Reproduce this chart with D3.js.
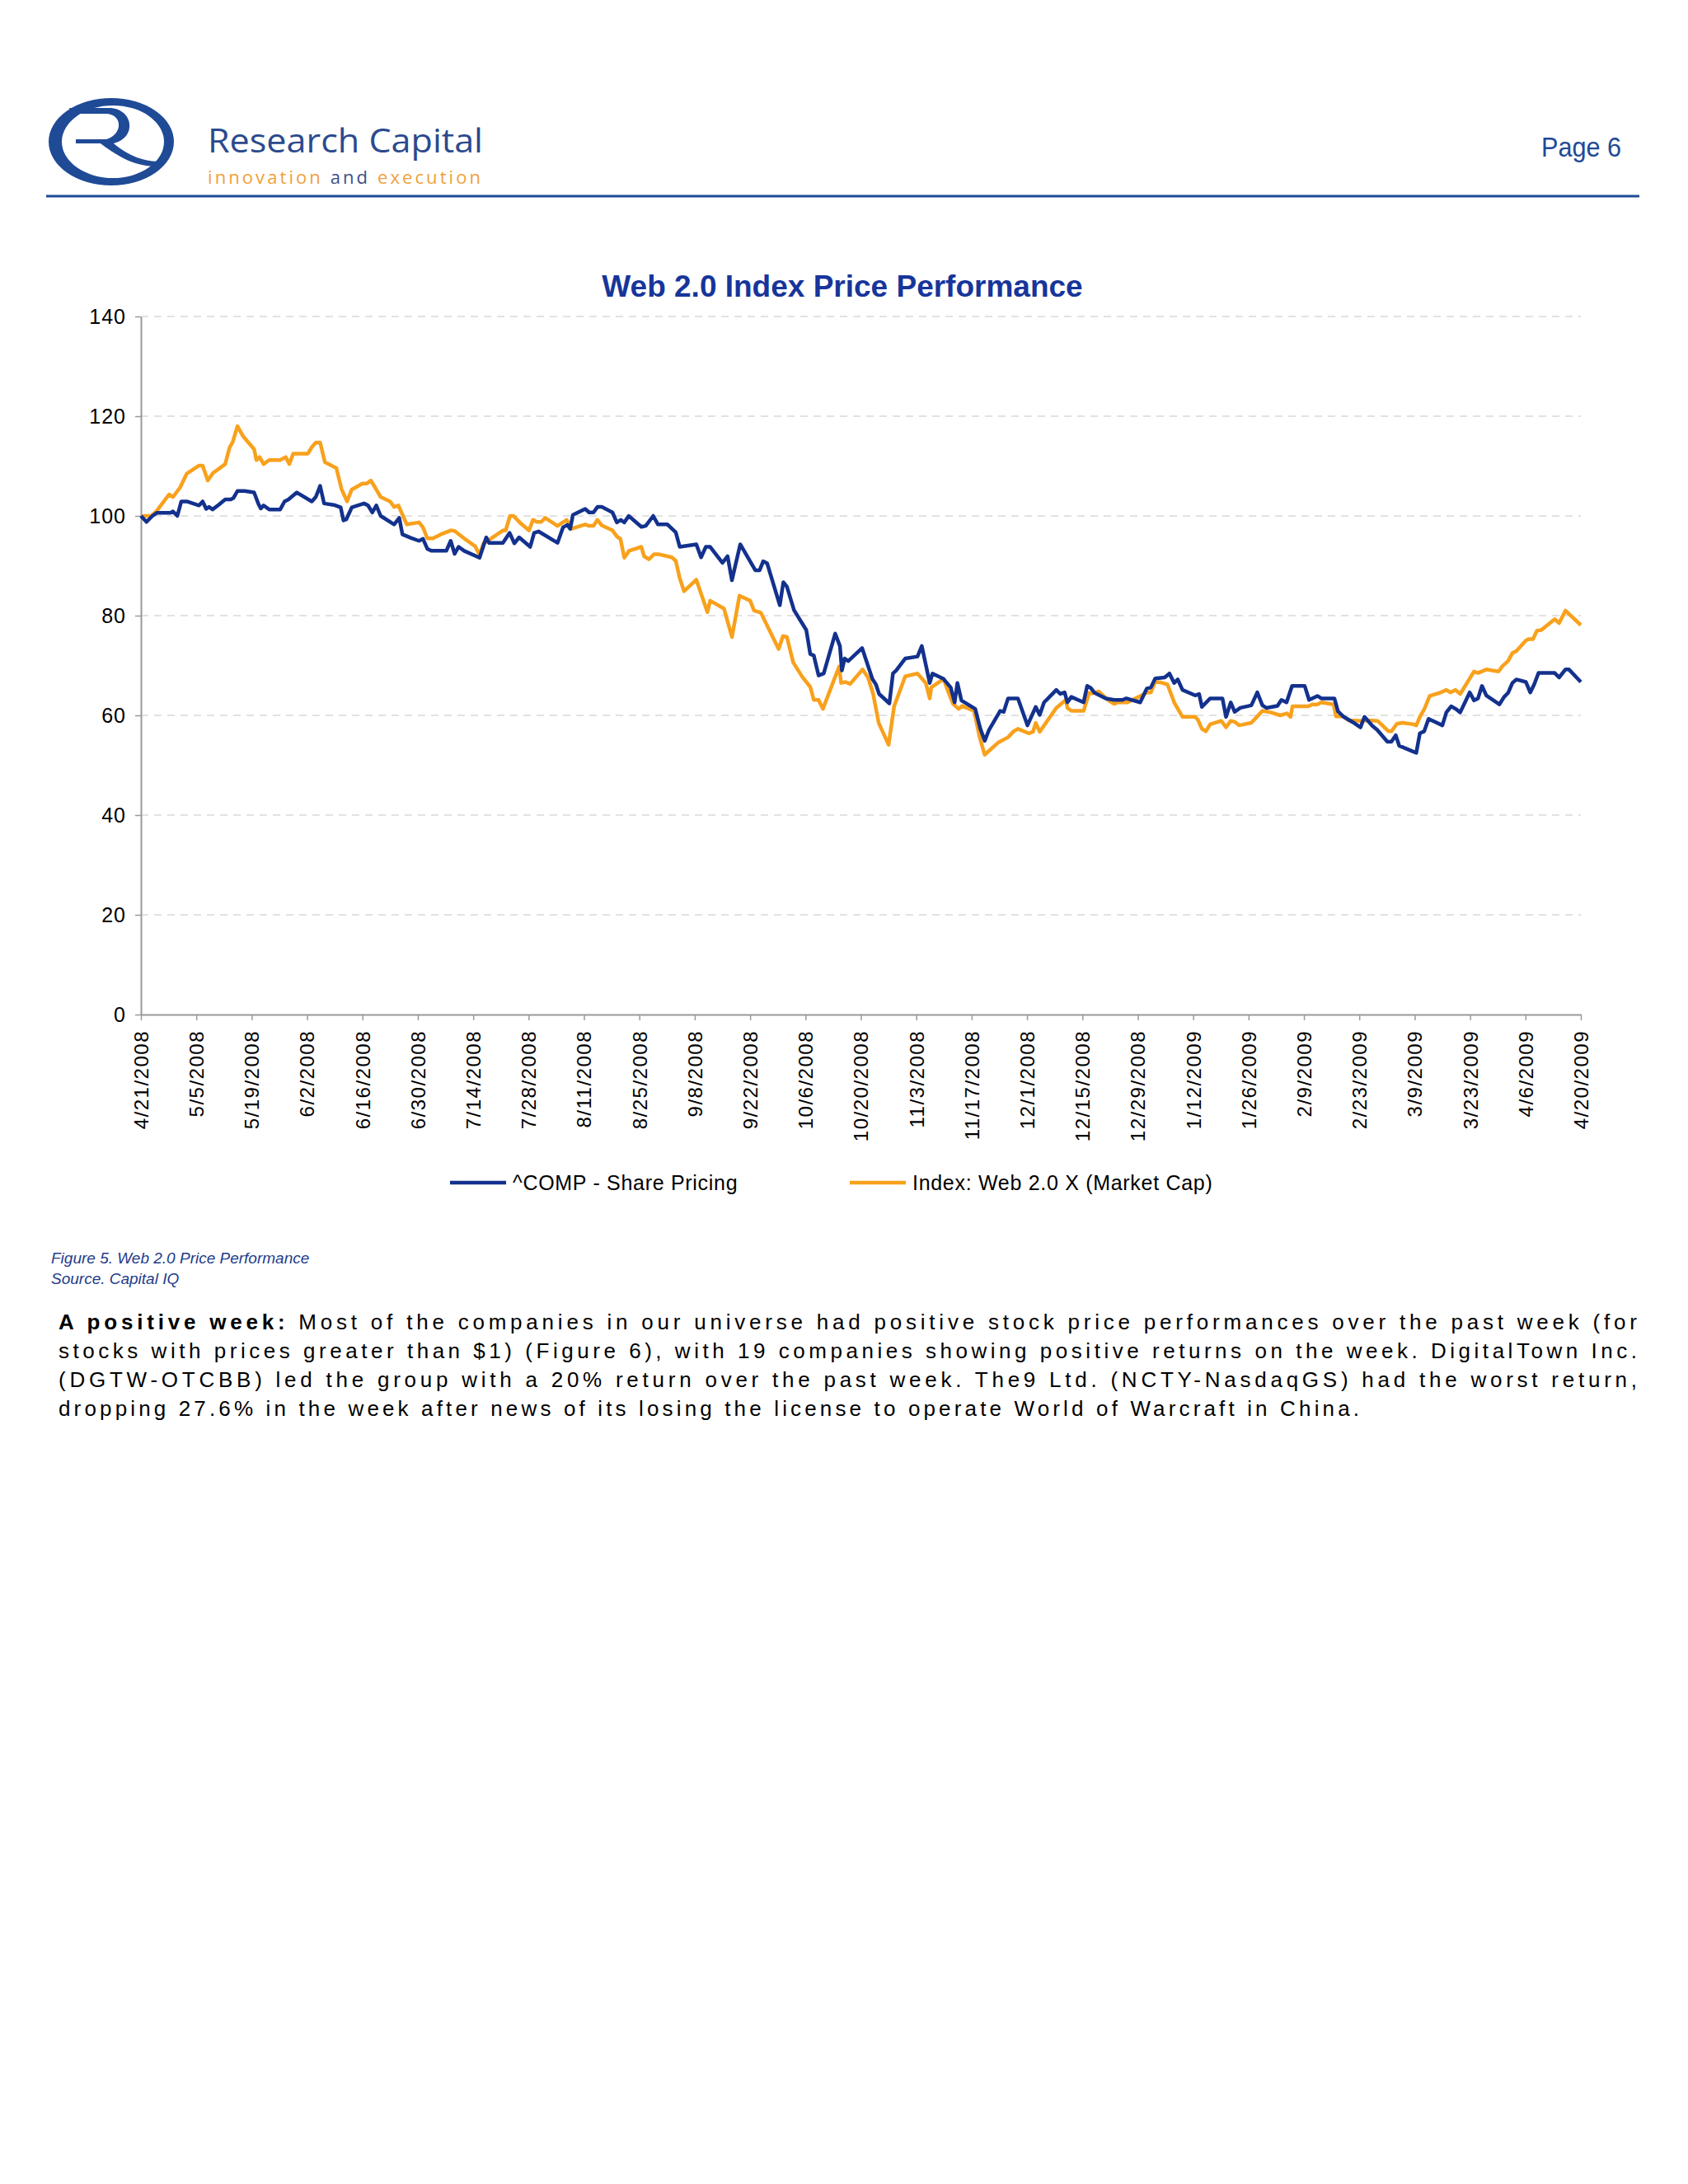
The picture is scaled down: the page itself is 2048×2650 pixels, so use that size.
<!DOCTYPE html>
<html>
<head>
<meta charset="utf-8">
<script src="https://cdn.jsdelivr.net/npm/d3@7"></script>
<style>
  body { margin: 0; background: #fff; }
  svg { display: block; }
  text { font-family: "Liberation Sans", Arial, Helvetica, sans-serif; }
</style>
</head>
<body>
<svg id="page" width="2048" height="2650"></svg>
<script>
// x tick labels, every two weeks
const tickLabels = ["4/21/2008", "5/5/2008", "5/19/2008", "6/2/2008", "6/16/2008", "6/30/2008",
  "7/14/2008", "7/28/2008", "8/11/2008", "8/25/2008", "9/8/2008", "9/22/2008", "10/6/2008",
  "10/20/2008", "11/3/2008", "11/17/2008", "12/1/2008", "12/15/2008", "12/29/2008", "1/12/2009",
  "1/26/2009", "2/9/2009", "2/23/2009", "3/9/2009", "3/23/2009", "4/6/2009", "4/20/2009"];
const yTicks = [0, 20, 40, 60, 80, 100, 120, 140];

// ^COMP - Share Pricing: days after 4/21/2008, rebased value
const compDays = [0, 1.4, 2.9, 4, 7.4, 8.1, 9.2, 10.2, 11.6, 14.7, 15.6, 16.5, 17.2, 18.1, 19.6, 21.3,
  22.7, 23.4, 24.4, 26.2, 28.6, 29.7, 30.3, 31, 32.4, 35.2, 36.3, 37.3, 39.4, 43.2, 44.2, 45.3, 46.3,
  48.8, 50.5, 51.2, 51.9, 53.3, 56.4, 57.4, 58.5, 59.5, 60.6, 64, 65.3, 66.1, 68.2, 70.3, 71.3, 72.4,
  73.4, 77.2, 78.3, 79.3, 80.3, 81.7, 85.6, 87.3, 88, 91.5, 93.2, 94.4, 95.6, 98.4, 99.4, 100.5, 105.3,
  106.7, 107.8, 108.5, 109.2, 112.3, 113.3, 114.4, 115.4, 116.5, 119.2, 120.3, 121.3, 122.2, 123.3,
  126.5, 127.6, 129.5, 130.7, 133.1, 135.2, 136.2, 140.4, 141.6, 142.8, 143.9, 147, 148.3, 149.4,
  151.5, 155.3, 156.4, 157.3, 158.3, 161.5, 162.4, 163.3, 165.1, 168.2, 169.2, 170.1, 171.3, 172.6,
  175.5, 176.7, 177.2, 177.9, 178.8, 182.3, 184.9, 185.8, 186.6, 189.2, 190.1, 190.9, 193.2, 196.3,
  197.4, 199.4, 200.1, 202.9, 204.7, 205.7, 206.4, 207.4, 210.9, 212.2, 213.3, 214.4, 217.2, 218.1,
  219.2, 221.7, 224.1, 226.2, 227.2, 228.3, 231.4, 232.4, 233.5, 234.2, 235.2, 238.3, 239.2, 240.1,
  241.1, 243.9, 246, 248.1, 249.1, 252.6, 254.3, 255.3, 256.4, 258.8, 260, 261.2, 262.1, 263.3, 266.5,
  267.5, 268.2, 270.3, 273.4, 274.3, 275.5, 276.5, 277.9, 280.7, 282.2, 283.5, 284.5, 287.3, 288.3,
  289.6, 291, 294.2, 295.3, 297.4, 298.4, 301.7, 302.6, 303.9, 306.4, 308.3, 309.3, 311.3, 312.5,
  315.1, 316.1, 317.2, 318.1, 321.7, 322.4, 323.3, 324.4, 325.5, 329, 330, 331.2, 332.4, 333.5, 335.9,
  337, 338, 339, 340.1, 343.4, 344.6, 345.6, 346.7, 347.7, 350.1, 351.2, 352.2, 353.3, 357.4, 358.5,
  360.1, 361, 364];
const compValues = [100, 98.8, 100, 100.6, 100.6, 100.9, 100, 102.9, 102.9, 102.1, 102.9, 101.4, 101.8,
  101.3, 102.2, 103.3, 103.3, 103.6, 105, 105, 104.7, 102.4, 101.5, 102.1, 101.3, 101.3, 102.9, 103.3,
  104.7, 102.9, 103.8, 106, 102.5, 102.2, 101.7, 99.1, 99.3, 101.7, 102.5, 102.1, 100.7, 102.1, 100,
  98.3, 99.6, 96.3, 95.6, 95, 95.4, 93.4, 93, 93, 95, 92.4, 93.8, 93, 91.6, 95.7, 94.6, 94.6, 96.6,
  94.5, 95.7, 93.8, 96.6, 96.9, 94.6, 97.7, 98.2, 97.4, 100.2, 101.4, 100.7, 100.7, 101.8, 101.8,
  100.7, 98.7, 99.2, 98.7, 100, 97.8, 98, 100, 98.3, 98.3, 96.7, 93.8, 94.3, 91.7, 93.8, 93.8, 90.6,
  91.9, 87.1, 94.3, 89.1, 89.1, 90.9, 90.5, 82.1, 86.7, 85.8, 81.1, 77.1, 72.3, 72, 68, 68.4, 76.4,
  73.9, 69, 71.4, 70.9, 73.5, 67.3, 66.2, 64.3, 62.4, 68.4, 69, 71.4, 71.8, 73.9, 66.5, 68.4, 67.3,
  65.6, 62.6, 66.5, 63, 61.3, 57.3, 54.9, 57.1, 60.9, 60.7, 63.4, 63.4, 58, 61.7, 60.1, 62.6, 65.1,
  64.3, 64.6, 62.6, 63.7, 62.6, 65.9, 65.5, 64.5, 63.4, 63.1, 63.1, 63.4, 62.6, 65.4, 65.6, 67.4, 67.6,
  68.4, 66.5, 67.2, 65.1, 64, 64.3, 61.7, 63.4, 63.4, 59.7, 62.6, 60.7, 61.5, 62, 64.6, 62, 61.5,
  61.9, 63.1, 62.6, 65.9, 65.9, 63.1, 63.9, 63.4, 63.4, 60.8, 59.8, 58.6, 57.6, 59.7, 57.9, 57.1,
  54.7, 54.7, 56, 53.9, 52.7, 52.5, 56.4, 56.8, 59.3, 58, 60.6, 61.8, 61.3, 60.6, 64.6, 63, 63.4,
  65.9, 64, 62.2, 63.7, 64.5, 66.5, 67.2, 66.7, 64.6, 66.2, 68.5, 68.5, 67.6, 69.2, 69.2, 66.7];

// Index: Web 2.0 X (Market Cap)
const webDays = [0, 2.6, 4, 7.1, 8.1, 9.9, 11.6, 14.7, 15.6, 16.9, 18.2, 19.6, 21.3, 22.4, 23.2, 24.4,
  25.8, 28.6, 29.2, 30, 31, 32.4, 35.2, 36.6, 37.5, 38.5, 42.2, 43.2, 44.2, 45.3, 46.5, 49.4, 50.7,
  52.1, 53.3, 56, 57.1, 58.1, 59.2, 60.6, 63, 64, 65.1, 67.2, 70.3, 71.3, 72.4, 73.8, 75.8, 78.3,
  79.3, 81.7, 84.5, 85.6, 86.6, 88, 91.5, 92.2, 93.3, 94.2, 96, 98.1, 99.1, 100.1, 101.2, 102.2,
  105.3, 107.6, 108.8, 112.3, 113.3, 114.4, 115.4, 116.5, 119.2, 120.3, 121.2, 122.2, 123.4, 126.5,
  127.2, 128.4, 129.7, 131, 134.2, 135.2, 136.2, 137.3, 140.4, 143.2, 143.9, 147.4, 149.4, 151.3,
  154, 155, 156.7, 161.2, 162.3, 163.3, 164.9, 167.2, 169.2, 170.1, 171.3, 172.4, 176.5, 177, 178.1,
  179.3, 182.4, 183.8, 185.1, 186.5, 189, 190.4, 193.2, 196.3, 198.4, 199.4, 199.8, 202.9, 203.9,
  205.3, 206.7, 207.6, 210.6, 212, 213.3, 216.8, 219.2, 220.6, 221.7, 224.4, 225.5, 226.2, 227.2,
  231.4, 233.8, 234.2, 235.2, 238.3, 239.7, 240.5, 242.1, 244.6, 246, 247, 249.4, 252.2, 254.3, 255.3,
  256.4, 257.8, 259.5, 261.2, 263.3, 266.5, 267.2, 268.2, 269.2, 270.3, 273.1, 274.3, 275.5, 276.5,
  277.6, 280.7, 283.5, 285.6, 288, 289.7, 290.6, 291.1, 295.1, 296.1, 297.4, 298.4, 301.5, 302.1,
  303.9, 305.3, 308.5, 310.2, 312.6, 315.4, 316.1, 317.5, 318.9, 321.7, 322.4, 323.3, 324.4, 325.8,
  328.3, 330, 331, 332.3, 333.5, 335.6, 337, 338, 340.1, 343.2, 344.2, 345.6, 346.7, 347.7, 350.1,
  350.8, 351.9, 352.9, 354, 357.4, 358.5, 360.1, 364];
const webValues = [100, 100, 101, 104.3, 103.8, 105.7, 108.5, 110.1, 110.1, 107.1, 108.6, 109.4, 110.4,
  113.7, 114.8, 118, 116, 113.4, 111.2, 111.8, 110.4, 111.2, 111.2, 111.8, 110.4, 112.5, 112.5, 113.8,
  114.7, 114.7, 110.8, 109.6, 105.4, 102.9, 105.3, 106.5, 106.5, 107.1, 105.7, 103.8, 102.9, 101.8,
  102.1, 98.3, 98.7, 97.7, 95.5, 95.5, 96.3, 97.1, 97, 95.5, 93.9, 92.2, 94.5, 95.2, 97.1, 97.1, 100,
  100, 98.5, 97.1, 99.2, 98.8, 98.8, 99.6, 98, 99.2, 97.4, 98.3, 98, 98, 99.2, 98.1, 97.1, 95.9, 95.4,
  91.6, 93, 93.8, 91.9, 91.3, 92.3, 92.3, 91.7, 91, 87.5, 84.9, 87.2, 80.7, 83, 81.4, 75.7, 84, 83,
  81, 80.6, 73.3, 75.9, 75.7, 70.6, 67.7, 65.7, 63.1, 63.1, 61.3, 69.8, 66.5, 66.7, 66.3, 69.2, 67.6,
  64.3, 58.5, 54.1, 61.8, 67.8, 68.4, 66.5, 63.4, 65.6, 67.3, 65.1, 62.3, 61.3, 61.9, 60.9, 55.7, 52.1,
  54.6, 55.6, 56.8, 57.3, 56.4, 56.7, 58.5, 56.7, 61.5, 63.1, 61.5, 60.9, 60.9, 64.5, 64.4, 64.8, 63,
  62.3, 62.6, 62.6, 63.7, 64.6, 64.6, 66.7, 66.6, 66.2, 62.6, 59.7, 59.7, 59.1, 57.3, 56.8, 58.2, 58.9,
  57.6, 58.9, 58.7, 58, 58.5, 60.9, 60.6, 60, 60.4, 59.7, 61.8, 61.8, 62.2, 62.2, 62.6, 62.2, 59.8,
  59.8, 59, 58.9, 59, 58.9, 56.8, 56.8, 58.3, 58.5, 58.2, 58, 59.7, 61.2, 63.9, 64.5, 65.1, 64.6, 65.1,
  64.3, 67, 68.8, 68.5, 69.2, 68.8, 69.9, 70.9, 72.5, 72.9, 75, 75.3, 75.3, 77, 77.1, 79.3, 78.5, 81,
  78.1];

const seriesNames = ["^COMP - Share Pricing", "Index: Web 2.0 X (Market Cap)"];
const seriesColors = ["#13318d", "#f8a11c"];

const paragraphLead = "A positive week:";
const paragraphLines = [
  " Most of the companies in our universe had positive stock price performances over the past week (for",
  "stocks with prices greater than $1) (Figure 6), with 19 companies showing positive returns on the week. DigitalTown Inc.",
  "(DGTW-OTCBB) led the group with a 20% return over the past week. The9 Ltd. (NCTY-NasdaqGS) had the worst return,",
  "dropping 27.6% in the week after news of its losing the license to operate World of Warcraft in China."
];

const plot = {left: 171, right: 1918, top: 384, bottom: 1231};
const navy = "#1f4a96";

const svg = d3.select("#page");
const parseDate = d3.timeParse("%m/%d/%Y");
const startDate = parseDate(tickLabels[0]);
const endDate = parseDate(tickLabels[tickLabels.length - 1]);

function dayToDate(d) {
  return new Date(startDate.getTime() + d * 864e5);
}

// ---- page header ----
function drawHeader() {
  const logo = svg.append("g").attr("fill", navy);
  logo.append("path")
    .attr("fill-rule", "evenodd")
    .attr("d", ellipsePath(135, 172, 76, 53) + ellipsePath(137, 172, 62, 44));
  // the R
  logo.append("path")
    .attr("d", "M84 131 L132 131 C164 131,168 173,130 175 L125 170 C150 166,150 138,128 138 L86 138 Z");
  logo.append("rect").attr("x", 92).attr("y", 169).attr("width", 38).attr("height", 5);
  logo.append("path")
    .attr("d", "M116 170 C138 185,158 203,194 202 L195 196 C166 196,148 183,132 169 Z");

  svg.append("text")
    .attr("x", 252).attr("y", 185)
    .attr("textLength", 334).attr("lengthAdjust", "spacingAndGlyphs")
    .style("font-family", "'Open Sans', sans-serif")
    .style("font-size", "40px")
    .attr("fill", "#2b4a8e")
    .text("Research Capital");

  const tag = svg.append("text")
    .attr("x", 252).attr("y", 223)
    .attr("textLength", 331).attr("lengthAdjust", "spacing")
    .style("font-family", "'Open Sans', sans-serif")
    .style("font-size", "22px");
  tag.append("tspan").attr("fill", "#f0a03a").text("innovation ");
  tag.append("tspan").attr("fill", "#3c4f86").text("and ");
  tag.append("tspan").attr("fill", "#f0a03a").text("execution");

  svg.append("text")
    .attr("x", 1870).attr("y", 190)
    .attr("textLength", 97).attr("lengthAdjust", "spacingAndGlyphs")
    .style("font-size", "34px")
    .attr("fill", navy)
    .text("Page 6");

  svg.append("line")
    .attr("x1", 56).attr("x2", 1989).attr("y1", 238).attr("y2", 238)
    .attr("stroke", navy).attr("stroke-width", 3);
}

function ellipsePath(cx, cy, rx, ry) {
  return `M${cx - rx},${cy} a${rx},${ry} 0 1,0 ${2 * rx},0 a${rx},${ry} 0 1,0 ${-2 * rx},0 Z `;
}

// ---- chart ----
function drawChart() {
  const x = d3.scaleTime().domain([startDate, endDate]).range([plot.left, plot.right]);
  const y = d3.scaleLinear().domain([0, 140]).range([plot.bottom, plot.top]);

  svg.append("text")
    .attr("x", 1022).attr("y", 360)
    .attr("text-anchor", "middle")
    .style("font-size", "37px").style("font-weight", "bold")
    .attr("fill", "#17359a")
    .text("Web 2.0 Index Price Performance");

  // dashed gridlines
  svg.append("g")
    .selectAll("line")
    .data(yTicks.filter(v => v > 0))
    .join("line")
    .attr("x1", plot.left).attr("x2", plot.right)
    .attr("y1", d => y(d)).attr("y2", d => y(d))
    .attr("stroke", "#d9d9d9").attr("stroke-width", 1.5)
    .attr("stroke-dasharray", "9,7");

  const yAxis = d3.axisLeft(y).tickValues(yTicks).tickSize(7).tickSizeOuter(0).tickPadding(11);
  const gy = svg.append("g").attr("transform", `translate(${plot.left},0)`).call(yAxis);
  gy.selectAll("text")
    .style("font-size", "25px").style("letter-spacing", "1px")
    .attr("fill", "#000");

  const xAxis = d3.axisBottom(x)
    .tickValues(tickLabels.map(parseDate))
    .tickFormat(d3.timeFormat("%-m/%-d/%Y"))
    .tickSize(7).tickSizeOuter(0);
  const gx = svg.append("g").attr("transform", `translate(0,${plot.bottom})`).call(xAxis);
  gx.selectAll("text")
    .attr("transform", "rotate(-90)")
    .attr("text-anchor", "end")
    .attr("x", -19).attr("y", 0).attr("dy", "0.35em")
    .style("font-size", "24px").style("letter-spacing", "1.5px")
    .attr("fill", "#000");

  [gx, gy].forEach(g => {
    g.select(".domain").attr("stroke", "#9a9a9a").attr("stroke-width", 2);
    g.selectAll(".tick line").attr("stroke", "#9a9a9a").attr("stroke-width", 1.5);
  });

  const line = d3.line()
    .x(d => x(dayToDate(d[0])))
    .y(d => y(d[1]))
    .curve(d3.curveLinear);

  const series = [
    d3.zip(compDays, compValues),
    d3.zip(webDays, webValues),
  ];

  // orange first so the navy line sits on top
  svg.append("g")
    .selectAll("path")
    .data([1, 0])
    .join("path")
    .attr("d", i => line(series[i]))
    .attr("fill", "none")
    .attr("stroke", i => seriesColors[i])
    .attr("stroke-width", 4.5)
    .attr("stroke-linejoin", "round");

  // legend
  const legendX = [546, 1031];
  const legend = svg.append("g")
    .selectAll("g")
    .data(seriesNames)
    .join("g")
    .attr("transform", (d, i) => `translate(${legendX[i]},1435)`);
  legend.append("line")
    .attr("x1", 0).attr("x2", 68)
    .attr("stroke", (d, i) => seriesColors[i]).attr("stroke-width", 4.5);
  legend.append("text")
    .attr("x", 76)
    .attr("dy", "0.35em")
    .style("font-size", "25px").style("letter-spacing", "0.7px")
    .attr("fill", "#000")
    .text(d => d);
}

// ---- caption and body text ----
function drawText() {
  const caption = ["Figure 5. Web 2.0 Price Performance", "Source. Capital IQ"];
  svg.append("g")
    .selectAll("text")
    .data(caption)
    .join("text")
    .attr("x", 62).attr("y", (d, i) => 1533 + i * 25)
    .style("font-size", "19px").style("font-style", "italic")
    .attr("fill", "#1f3c8c")
    .text(d => d);

  const lineWidths = [1915, 1915, 1915, 1578];
  const para = svg.append("g")
    .selectAll("text")
    .data(paragraphLines)
    .join("text")
    .attr("x", 71).attr("y", (d, i) => 1613 + i * 35)
    .attr("textLength", (d, i) => lineWidths[i])
    .attr("lengthAdjust", "spacing")
    .style("font-size", "26px")
    .attr("fill", "#000");

  para.each(function(d, i) {
    const t = d3.select(this);
    if (i === 0) {
      t.append("tspan").style("font-weight", "bold").text(paragraphLead);
    }
    t.append("tspan").text(d);
  });
}

drawHeader();
drawChart();
drawText();
</script>
</body>
</html>
